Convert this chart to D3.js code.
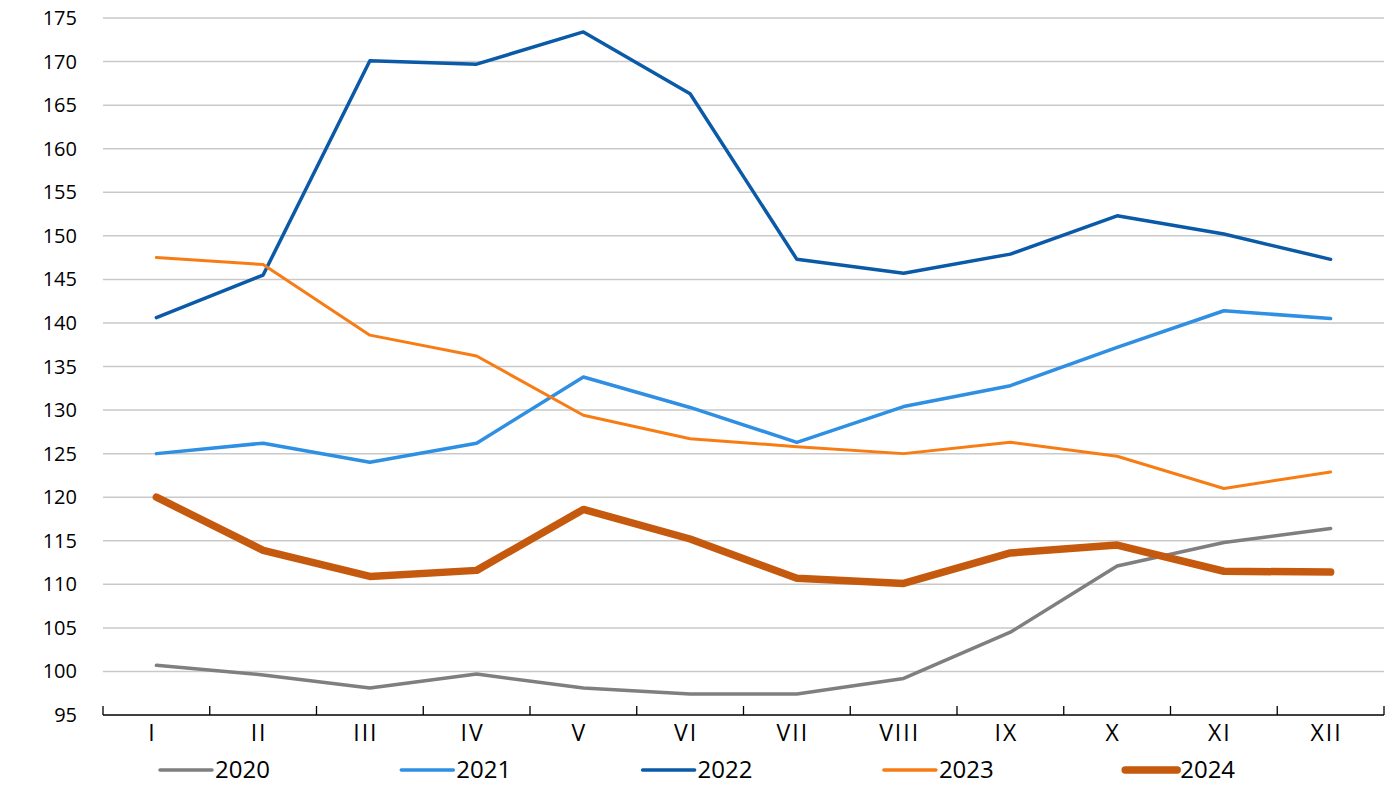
<!DOCTYPE html>
<html>
<head>
<meta charset="utf-8">
<script src="https://cdn.jsdelivr.net/npm/d3@7"></script>
<style>
  body { margin: 0; background: #fff; }
  svg text { font-family: "Open Sans", "Noto Sans", sans-serif; fill: #000; }
</style>
</head>
<body>
<div id="chart"></div>
<script>
const months = ["I", "II", "III", "IV", "V", "VI", "VII", "VIII", "IX", "X", "XI", "XII"];
const yTicks = [95, 100, 105, 110, 115, 120, 125, 130, 135, 140, 145, 150, 155, 160, 165, 170, 175];

const v2020 = [100.7, 99.6, 98.1, 99.7, 98.1, 97.4, 97.4, 99.2, 104.5, 112.1, 114.8, 116.4];
const v2021 = [125.0, 126.2, 124.0, 126.2, 133.8, 130.3, 126.3, 130.4, 132.8, 137.2, 141.4, 140.5];
const v2022 = [140.6, 145.5, 170.1, 169.7, 173.4, 166.3, 147.3, 145.7, 147.9, 152.3, 150.2, 147.3];
const v2023 = [147.5, 146.7, 138.6, 136.2, 129.4, 126.7, 125.8, 125.0, 126.3, 124.7, 121.0, 122.9];
const v2024 = [120.0, 113.9, 110.9, 111.6, 118.6, 115.2, 110.7, 110.1, 113.6, 114.5, 111.5, 111.4];

const series = [
    { name: "2020", values: v2020, color: "#7f7f7f", width: 3.5 },
    { name: "2021", values: v2021, color: "#2f8fe2", width: 3.5 },
    { name: "2022", values: v2022, color: "#0b5aa8", width: 3.5 },
    { name: "2023", values: v2023, color: "#f77c14", width: 3 },
    { name: "2024", values: v2024, color: "#c55a0f", width: 7.5 }
];

const width = 1400, height = 804;
const margin = { left: 103, right: 16, top: 18, bottom: 89 };

const svg = d3.select("#chart").append("svg")
    .attr("width", width)
    .attr("height", height);

const x = d3.scaleBand()
    .domain(months)
    .range([margin.left, width - margin.right]);

const y = d3.scaleLinear()
    .domain([95, 175])
    .range([height - margin.bottom, margin.top]);

// líneas de cuadrícula
svg.append("g")
    .selectAll("line")
    .data(yTicks.filter(d => d > 95))
    .join("line")
    .attr("x1", margin.left)
    .attr("x2", width - margin.right)
    .attr("y1", d => y(d))
    .attr("y2", d => y(d))
    .attr("stroke", "#c9c9c9")
    .attr("stroke-width", 1.5);

// etiquetas eje y
svg.append("g")
    .selectAll("text")
    .data(yTicks)
    .join("text")
    .attr("x", 77)
    .attr("y", d => y(d))
    .attr("dy", "0.35em")
    .attr("text-anchor", "end")
    .style("font-size", "20px")
    .text(d => d);

// eje x
const base = y(95);
svg.append("line")
    .attr("x1", margin.left)
    .attr("x2", width - margin.right)
    .attr("y1", base)
    .attr("y2", base)
    .attr("stroke", "#000")
    .attr("stroke-width", 1.3);

const bounds = months.map(m => x(m)).concat([x(months[months.length - 1]) + x.bandwidth()]);
svg.append("g")
    .selectAll("line")
    .data(bounds)
    .join("line")
    .attr("x1", d => d)
    .attr("x2", d => d)
    .attr("y1", base - 9)
    .attr("y2", base)
    .attr("stroke", "#000")
    .attr("stroke-width", 1.3);

svg.append("g")
    .selectAll("text")
    .data(months)
    .join("text")
    .attr("x", d => x(d) + x.bandwidth() / 2 - 4)
    .attr("y", base + 18)
    .attr("dy", "0.35em")
    .attr("text-anchor", "middle")
    .style("font-size", "23px")
    .style("letter-spacing", "2px")
    .text(d => d);

// líneas de series
const line = d3.line()
    .x((d, i) => x(months[i]) + x.bandwidth() / 2)
    .y(d => y(d));

svg.append("g")
    .selectAll("path")
    .data(series)
    .join("path")
    .attr("d", d => line(d.values))
    .attr("fill", "none")
    .attr("stroke", d => d.color)
    .attr("stroke-width", d => d.width)
    .attr("stroke-linejoin", "round")
    .attr("stroke-linecap", "round");

// leyenda
const legend = svg.append("g")
    .selectAll("g")
    .data(series)
    .join("g")
    .attr("transform", (d, i) => `translate(${160 + i * 241.3},770)`);

legend.append("line")
    .attr("x1", 0)
    .attr("x2", 52)
    .attr("stroke", d => d.color)
    .attr("stroke-width", d => d.name === "2024" ? 7.5 : 3.5)
    .attr("stroke-linecap", "round");

legend.append("text")
    .attr("x", 55)
    .attr("dy", "0.35em")
    .style("font-size", "24px")
    .text(d => d.name);
</script>
</body>
</html>
